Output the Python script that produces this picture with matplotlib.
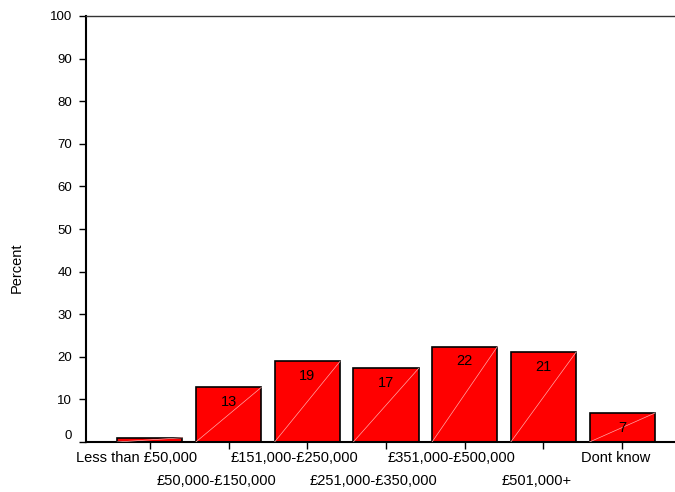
import matplotlib
matplotlib.use("Agg")
import matplotlib.pyplot as plt
from matplotlib.transforms import ScaledTranslation

plt.rcParams["font.family"] = ["Liberation Sans", "DejaVu Sans"]

categories = [
    "Less than £50,000",
    "£50,000-£150,000",
    "£151,000-£250,000",
    "£251,000-£350,000",
    "£351,000-£500,000",
    "£501,000+",
    "Dont know",
]
percent = [1.0, 12.8, 18.9, 17.3, 22.4, 21.1, 6.8]
yticks = [0, 10, 20, 30, 40, 50, 60, 70, 80, 90, 100]

fig = plt.figure(figsize=(6.75, 4.92), dpi=100)
ax = fig.add_axes([86 / 675, 1 - 442 / 492, 600 / 675, 426 / 492])

x = list(range(len(categories)))
bars = ax.bar(x, percent, width=0.83, color="#ff0000", edgecolor="black", linewidth=1.2, zorder=2)

# faint diagonal across each bar, plus the rounded value near the top
for rect, v in zip(bars, percent):
    x0, y0 = rect.get_x(), rect.get_y()
    w, h = rect.get_width(), rect.get_height()
    ax.plot([x0, x0 + w], [y0, y0 + h], color="#ffaaaa", linewidth=0.5, zorder=3)
    if v >= 5:
        ax.annotate(f"{v:.0f}", (x0 + w / 2, y0 + h), xytext=(0, -10.5),
                    textcoords="offset points", ha="center", va="center",
                    fontsize=10.5, zorder=4)

ax.set_xlim(-0.81, 6.81)
ax.set_ylim(0, 100)
ax.set_yticks(yticks)
ax.set_yticklabels([str(t) for t in yticks], fontsize=9.5)
ax.get_yticklabels()[0].set_va("bottom")
ax.set_xticks(x)
ax.set_xticklabels(categories, fontsize=10.5)
ax.tick_params(axis="both", direction="out", length=5, width=1, color="black")
ax.tick_params(axis="y", pad=5)

# stagger the category names over two rows, nudged a little to the left
for i, (tick, lab) in enumerate(zip(ax.xaxis.get_major_ticks(), ax.get_xticklabels())):
    tick.set_pad(1.5 if i % 2 == 0 else 18)
    dx = -0.55 * len(lab.get_text()) / 72
    lab.set_transform(lab.get_transform() + ScaledTranslation(dx, 0, fig.dpi_scale_trans))

ax.spines["right"].set_visible(False)
ax.spines["left"].set_linewidth(1.5)
ax.spines["bottom"].set_linewidth(1.5)
ax.spines["top"].set_linewidth(1.0)
ax.spines["top"].set_color("#333333")

fig.text(17 / 675, 1 - 268 / 492, "Percent", rotation=90, ha="center", va="center", fontsize=10.5)

fig.savefig("out.png", dpi=100)
